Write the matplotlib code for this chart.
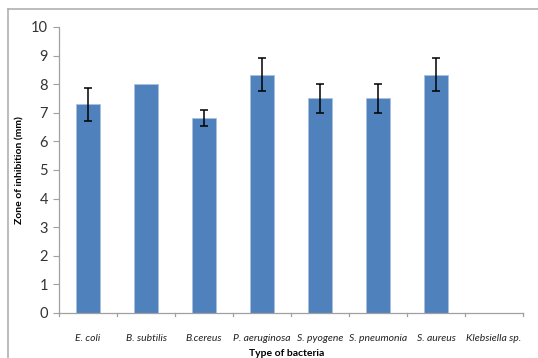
import matplotlib.pyplot as plt
from matplotlib.lines import Line2D

bacteria = ["E. coli", "B. subtilis", "B.cereus", "P. aeruginosa",
            "S. pyogene", "S. pneumonia", "S. aureus", "Klebsiella sp."]
zone_mm = [7.3, 8.0, 6.83, 8.33, 7.5, 7.5, 8.33, 0.0]
zone_err = [0.57, 0.0, 0.28, 0.58, 0.5, 0.5, 0.58, 0.0]

plt.rcParams['font.family'] = ['Lato', 'DejaVu Sans']

fig = plt.figure(figsize=(5.38, 3.58), dpi=100)
ax = fig.add_axes([0.1097, 0.1257, 0.8623, 0.7989])

x = list(range(len(bacteria)))
has_err = [e > 0 for e in zone_err]
ax.bar(x, zone_mm, width=0.4, color="#4F81BD", edgecolor="#A9C0DE", linewidth=0.6, zorder=2)
ax.errorbar([xi for xi, h in zip(x, has_err) if h],
            [v for v, h in zip(zone_mm, has_err) if h],
            yerr=[e for e, h in zip(zone_err, has_err) if h],
            fmt="none", ecolor="black", elinewidth=1.1, capsize=3, capthick=1.1, zorder=3)

ax.set_xlim(-0.5, len(bacteria) - 0.5)
ax.set_ylim(0, 10)
ax.set_yticks(range(0, 11))
ax.set_xticks(x)
ax.set_xticklabels(bacteria, fontsize=7.5, style="italic", color="#222222")
ax.tick_params(axis="x", length=0, pad=15)
ax.tick_params(axis="y", labelsize=10.5, length=4, color="#A0A0A0", labelcolor="#333333", pad=4)

# category separators on the x axis
for b in [i - 0.5 for i in range(len(bacteria) + 1)]:
    ax.plot([b, b], [0, -0.12], color="#A0A0A0", lw=0.9, clip_on=False)

for s in ["top", "right"]:
    ax.spines[s].set_visible(False)
for s in ["left", "bottom"]:
    ax.spines[s].set_color("#A0A0A0")
    ax.spines[s].set_linewidth(0.9)

ax.set_ylabel("Zone of inhibition (mm)", fontsize=7.5, fontweight="bold")
ax.yaxis.set_label_coords(-0.075, 0.5)
ax.set_xlabel("Type of bacteria", fontsize=7.5, fontweight="bold")
ax.xaxis.set_label_coords(0.49, -0.125)

# chart frame
fig.add_artist(Line2D([8 / 538, 1.0], [1 - 9 / 358, 1 - 9 / 358], color="#B0B0B0", lw=1.2))
fig.add_artist(Line2D([8 / 538, 8 / 538], [0, 1 - 9 / 358], color="#B0B0B0", lw=1.2))

fig.savefig("out.png", dpi=100)
